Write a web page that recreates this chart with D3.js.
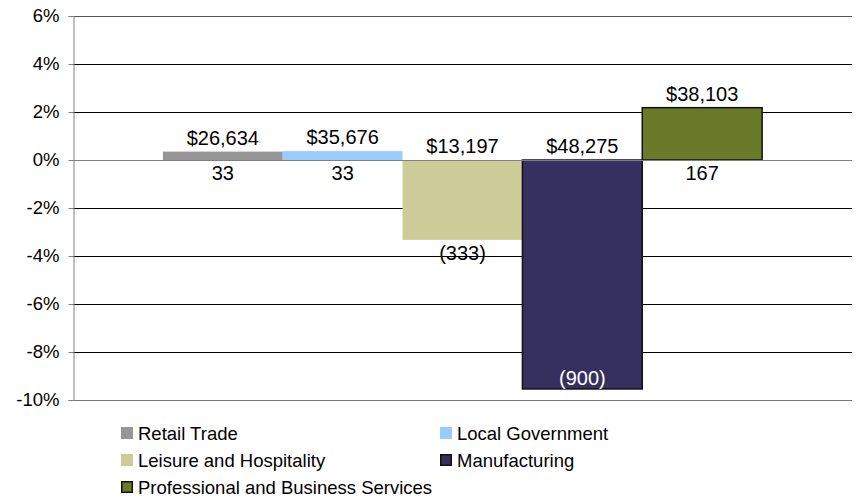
<!DOCTYPE html>
<html>
<head>
<meta charset="utf-8">
<script src="https://cdn.jsdelivr.net/npm/d3@7"></script>
<style>
  body { margin: 0; background: #fff; }
  svg { display: block; font-family: "Liberation Sans", Arial, sans-serif; }
</style>
</head>
<body>
<div id="chart"></div>
<script>
// series (one category, clustered columns)
const series = ['Retail Trade', 'Local Government', 'Leisure and Hospitality', 'Manufacturing', 'Professional and Business Services'];
const pctChange = [0.35, 0.37, -3.33, -9.54, 2.18];
const wageLabels = ['$26,634', '$35,676', '$13,197', '$48,275', '$38,103'];
const jobLabels = ['33', '33', '(333)', '(900)', '167'];
const yTicks = [-10, -8, -6, -4, -2, 0, 2, 4, 6];

const colors = ['#969696', '#99ccff', '#cccc99', '#35305f', '#6b7a2a'];
const outlined = [false, false, false, true, true];

const width = 856, height = 499;
const margin = { top: 16, right: 4, bottom: 99, left: 73 };

const svg = d3.select('#chart').append('svg')
  .attr('width', width)
  .attr('height', height);

let y = d3.scaleLinear()
  .domain([-10, 6])
  .range([height - margin.bottom, margin.top]);

// gap width 150% -> 90px each side of the cluster
let x0 = d3.scaleBand()
  .domain(['all'])
  .range([margin.left, width - margin.right])
  .paddingInner(0)
  .paddingOuter(0.15);

let x1 = d3.scaleBand()
  .domain(series)
  .range([0, x0.bandwidth()]);

// gridlines
svg.append('g')
  .selectAll('line')
  .data(yTicks.filter(t => t !== 0 && t !== -10))
  .enter().append('line')
  .attr('x1', margin.left)
  .attr('x2', width - margin.right)
  .attr('y1', d => Math.round(y(d)) + 0.5)
  .attr('y2', d => Math.round(y(d)) + 0.5)
  .attr('stroke', d => d === 6 ? '#555' : '#000')
  .attr('stroke-width', 1);

// bottom border line
svg.append('line')
  .attr('x1', margin.left).attr('x2', width - margin.right)
  .attr('y1', Math.round(y(-10)) + 0.5).attr('y2', Math.round(y(-10)) + 0.5)
  .attr('stroke', '#777');

// bars
const cluster = svg.append('g').attr('transform', `translate(${x0('all')},0)`);

cluster.selectAll('rect')
  .data(series)
  .enter().append('rect')
  .attr('x', d => x1(d))
  .attr('width', x1.bandwidth())
  .attr('y', (d, i) => y(Math.max(0, pctChange[i])))
  .attr('height', (d, i) => Math.abs(y(pctChange[i]) - y(0)))
  .attr('fill', (d, i) => colors[i])
  .attr('stroke', (d, i) => outlined[i] ? '#111' : 'none')
  .attr('stroke-width', 1.5);

// zero line (axis)
svg.append('line')
  .attr('x1', margin.left).attr('x2', width - margin.right)
  .attr('y1', Math.round(y(0)) + 0.5).attr('y2', Math.round(y(0)) + 0.5)
  .attr('stroke', '#808080');

// y axis
let yAxis = d3.axisLeft(y)
  .tickValues(yTicks)
  .tickSize(5)
  .tickPadding(9)
  .tickFormat(d => d + '%');

const ax = svg.append('g')
  .attr('transform', `translate(${margin.left + 0.5},0)`)
  .call(yAxis);
ax.select('.domain').attr('stroke', '#808080');
ax.selectAll('.tick line').attr('stroke', '#808080');
ax.selectAll('.tick text')
  .attr('font-size', 18.5)
  .attr('font-family', '"Liberation Sans", Arial, sans-serif')
  .attr('fill', '#000');

// wage labels above bar (or above zero line)
cluster.selectAll('.wage')
  .data(series)
  .enter().append('text')
  .attr('class', 'wage')
  .attr('x', d => x1(d) + x1.bandwidth() / 2)
  .attr('y', (d, i) => Math.min(y(pctChange[i]), y(0)) - 7)
  .attr('text-anchor', 'middle')
  .attr('font-size', 20)
  .attr('fill', '#000')
  .text((d, i) => wageLabels[i]);

// job labels below zero line / below bar end, inside if no room
const plotBottom = y(-10);
cluster.selectAll('.jobs')
  .data(series)
  .enter().append('text')
  .attr('class', 'jobs')
  .attr('x', d => x1(d) + x1.bandwidth() / 2)
  .attr('y', (d, i) => {
    let b = Math.max(y(pctChange[i]), y(0));
    return b + 22 > plotBottom ? b - 4 : b + 20;
  })
  .attr('text-anchor', 'middle')
  .attr('font-size', 20)
  .attr('fill', (d, i) => {
    let b = Math.max(y(pctChange[i]), y(0));
    return b + 22 > plotBottom ? '#fff' : '#000';
  })
  .text((d, i) => jobLabels[i]);

// legend, two columns
const legendCols = [121, 440];
const legendRows = [433, 460, 487];

let legends = svg.append('g')
  .selectAll('.legends')
  .data(series)
  .enter().append('g')
  .classed('legends', true)
  .attr('transform', (d, i) => `translate(${legendCols[i % 2]},${legendRows[Math.floor(i / 2)]})`);

legends.append('rect')
  .attr('x', (d, i) => outlined[i] ? 0.75 : 0)
  .attr('y', (d, i) => outlined[i] ? -5.25 : -6)
  .attr('width', (d, i) => outlined[i] ? 10.5 : 12)
  .attr('height', (d, i) => outlined[i] ? 10.5 : 12)
  .attr('fill', (d, i) => colors[i])
  .attr('stroke', (d, i) => outlined[i] ? '#111' : 'none')
  .attr('stroke-width', 1.5);

legends.append('text')
  .attr('x', 17)
  .attr('y', 6.5)
  .attr('font-size', 18.5)
  .attr('fill', '#000')
  .text(d => d);
</script>
</body>
</html>
